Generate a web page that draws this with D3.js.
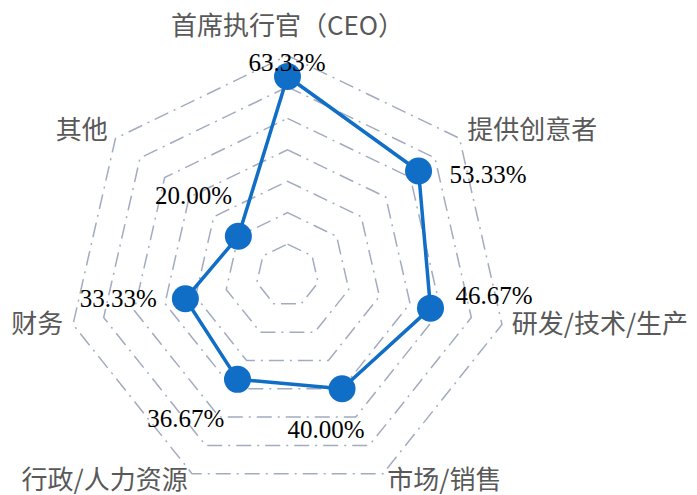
<!DOCTYPE html>
<html>

<head>
    <meta charset="UTF-8">
    <style>
        body {
            margin: 0;
            background-color: #ffffff;
        }

        .axis-name {
            font-family: 'Noto Sans CJK SC', sans-serif;
            font-size: 26px;
            fill: #595959;
        }

        .value-label {
            font-family: 'Liberation Serif', 'Times New Roman', serif;
            font-size: 25px;
            fill: #000000;
            text-anchor: middle;
        }

        .ring {
            fill: none;
            stroke: #a2abbf;
            stroke-width: 1.5;
            stroke-dasharray: 15 6 2 6;
        }
    </style>
</head>

<body>
    <svg id="chart" width="697" height="495"></svg>
    <script src="https://d3js.org/d3.v7.min.js"></script>
    <script>
        // chart data
        var categories = ["首席执行官（CEO）", "提供创意者", "研发/技术/生产", "市场/销售", "行政/人力资源", "财务", "其他"];
        var values = [63.33, 53.33, 46.67, 40.00, 36.67, 33.33, 20.00];
        var ringLevels = [10, 20, 30, 40, 50, 60, 70];

        // where each value label sits relative to its point
        var labelDx = [-0.5, 69.6, 63.5, -16, -51.8, -67.1, -44.8];
        var labelDy = [-5.7, 11.7, -4.3, 49.7, 47.4, 8.4, -32.7];

        var cx = 287.5;
        var cy = 275.5;
        var radius = 220;

        var svg = d3.select("#chart");
        var g = svg.append("g").attr("transform", "translate(" + cx + "," + cy + ")");

        var r = d3.scaleLinear().domain([0, d3.max(ringLevels)]).range([0, radius]);
        var angle = d3.scalePoint().domain(d3.range(categories.length + 1)).range([0, 2 * Math.PI]);

        function pos(i, v) {
            var a = angle(i) - Math.PI / 2;
            return [r(v) * Math.cos(a), r(v) * Math.sin(a)];
        }

        // grid rings
        var ringLine = d3.line().curve(d3.curveLinearClosed);
        g.selectAll(".ring")
            .data(ringLevels)
            .enter()
            .append("path")
            .attr("class", "ring")
            .attr("d", function (lvl) {
                return ringLine(categories.map(function (c, i) { return pos(i, lvl); }));
            });

        // axis names
        g.selectAll(".axis-name")
            .data(categories)
            .enter()
            .append("text")
            .attr("class", "axis-name")
            .attr("x", function (d, i) {
                var a = angle(i) - Math.PI / 2;
                return (radius + 10) * Math.cos(a);
            })
            .attr("y", function (d, i) {
                var a = angle(i) - Math.PI / 2;
                var y = (radius + 10) * Math.sin(a) - 2.5;
                if (Math.abs(Math.cos(a)) < 0.01) y -= 17;
                return y;
            })
            .attr("dy", "0.35em")
            .attr("text-anchor", function (d, i) {
                var c = Math.cos(angle(i) - Math.PI / 2);
                if (Math.abs(c) < 0.01) return "middle";
                return c > 0 ? "start" : "end";
            })
            .text(function (d) { return d; });

        // data polygon
        var pts = values.map(function (v, i) { return pos(i, v); });
        g.append("path")
            .attr("d", ringLine(pts))
            .attr("fill", "none")
            .attr("stroke", "#106ec6")
            .attr("stroke-width", 3.5)
            .attr("stroke-linejoin", "round");

        g.selectAll(".dot")
            .data(pts)
            .enter()
            .append("circle")
            .attr("class", "dot")
            .attr("cx", function (d) { return d[0]; })
            .attr("cy", function (d) { return d[1]; })
            .attr("r", 13.5)
            .attr("fill", "#106ec6");

        // value labels
        g.selectAll(".value-label")
            .data(values)
            .enter()
            .append("text")
            .attr("class", "value-label")
            .attr("x", function (d, i) { return pts[i][0] + labelDx[i]; })
            .attr("y", function (d, i) { return pts[i][1] + labelDy[i]; })
            .text(function (d) { return d.toFixed(2) + "%"; });
    </script>
</body>

</html>
